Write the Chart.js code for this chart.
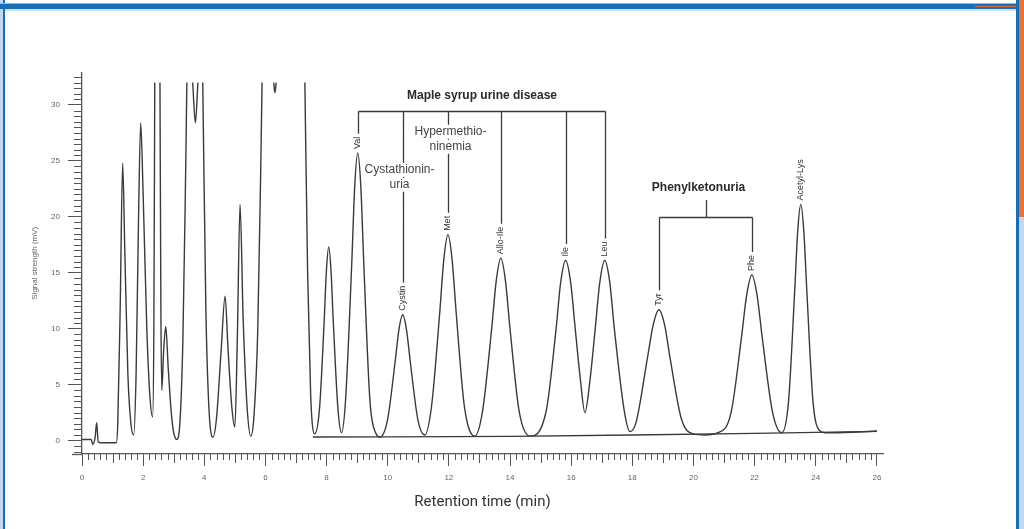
<!DOCTYPE html>
<html>
<head>
<meta charset="utf-8">
<script src="https://cdn.jsdelivr.net/npm/chart.js@4.4.1/dist/chart.umd.min.js"></script>
<style>
  body { margin: 0; background: #fff; width: 1024px; height: 529px; position: relative; overflow: hidden; }
  #chart { position: absolute; left: 0; top: 0; }
  .bar { position: absolute; z-index: 2; }
</style>
</head>
<body>
<canvas id="chart" width="1024" height="529"></canvas>
<!-- moldura azul / laranja -->
<div class="bar" style="left:0;top:0;width:3px;height:529px;background:#c6d6ec"></div>
<div class="bar" style="left:3px;top:0;width:2px;height:529px;background:#1670b9"></div>
<div class="bar" style="left:0;top:3px;width:1019px;height:1px;background:#8fb8e0"></div>
<div class="bar" style="left:0;top:4px;width:1019px;height:5px;background:#1670b9"></div>
<div class="bar" style="left:5px;top:9px;width:1011px;height:2px;background:#cfe0f2"></div>
<div class="bar" style="left:975px;top:6px;width:42px;height:1px;background:#e0703c"></div>
<div class="bar" style="left:1016px;top:0;width:3px;height:529px;background:#1670b9"></div>
<div class="bar" style="left:1019px;top:0;width:5px;height:217px;background:#f07030"></div>
<div class="bar" style="left:1019px;top:217px;width:5px;height:312px;background:#c6d6ec"></div>
<script>
// ==================== DADOS ====================
// Tempo de retenção (min) e sinal (mV); null = fora de escala
const traceTime = [
  0.00, 0.30, 0.35, 0.43, 0.48, 0.53, 0.62, 1.12, 1.17, 1.25, 1.33, 1.40, 1.50, 1.60, 1.69,
  1.77, 1.85, 1.92, 2.00, 2.12, 2.22, 2.31, 2.35, 2.38, 2.46, 2.55, 2.58, 2.61, 2.67, 2.74,
  2.82, 2.92, 3.00, 3.10, 3.20, 3.30, 3.38, 3.43, 3.52, 3.62, 3.71, 3.79, 3.87, 3.95, 4.05,
  4.15, 4.28, 4.40, 4.55, 4.68, 4.78, 4.90, 5.00, 5.08, 5.17, 5.27, 5.40, 5.52, 5.62, 5.75,
  5.85, 5.89, 6.08, 6.27, 6.31, 6.35, 6.80, 7.29, 7.38, 7.48, 7.61, 7.77, 7.92, 7.995, 8.07,
  8.145, 8.22, 8.37, 8.49, 8.62, 8.82, 8.92, 9.02, 9.12, 9.22, 9.42, 9.62, 9.74, 9.99, 10.24,
  10.365, 10.49, 10.615, 10.74, 10.99, 11.21, 11.43, 11.70, 11.835, 11.97, 12.105, 12.24, 12.51, 12.85, 13.10,
  13.40, 13.55, 13.70, 13.85, 14.00, 14.30, 14.65, 15.18, 15.50, 15.66, 15.82, 15.98, 16.14, 16.30, 16.45,
  16.62, 16.78, 16.94, 17.10, 17.26, 17.42, 17.74, 17.92, 18.12, 18.49, 18.68, 18.87, 19.06, 19.24, 19.61,
  20.00, 20.37, 20.80, 21.23, 21.57, 21.74, 21.91, 22.08, 22.25, 22.59, 22.89, 23.11, 23.31, 23.41, 23.51,
  23.61, 23.71, 23.91, 24.12, 24.30, 25.20, 26.00
];
const traceSignal = [
  0.1, 0.1, -0.35, 0.3, 1.6, -0.1, -0.2, -0.2, 1.5, 12, 24.8, 17, 6, 1.5, 0.5,
  6, 20, 28.4, 22, 10, 4, 2.1, 10, 32, null, 32, 12, 4.5, 8, 10.2,
  6.5, 2.5, 0.7, 0.1, 1.5, 9, 22, 32, null, 32, 28.4, 32, null, 32, 12,
  3, 0.3, 2, 8, 12.9, 8, 3, 1.2, 9, 21.1, 11, 3, 0.4, 2, 10,
  25, 32, null, 32, 31.1, 32, null, 32, 15, 4, 0.6, 2.9, 10.6, 15.2, 17.3,
  15.2, 10.6, 2.9, 0.7, 3.6, 15.6, 22.7, 25.7, 22.7, 15.6, 3.5, 0.6, 0.3, 1.8, 7.0,
  9.9, 11.25, 9.9, 7.0, 1.8, 0.5, 3.0, 11.4, 16.2, 18.4, 16.2, 11.4, 3.0, 0.4, 2.6,
  10.0, 14.3, 16.3, 14.3, 10.0, 2.6, 0.4, 2.6, 9.8, 14.2, 16.1, 14.2, 9.8, 5.5, 2.5,
  5.5, 9.8, 14.2, 16.1, 14.2, 9.8, 2.6, 0.8, 1.6, 7.3, 10.3, 11.7, 10.3, 7.3, 1.9,
  0.6, 0.5, 0.7, 2.5, 9.2, 13.0, 14.8, 13.0, 9.2, 2.5, 0.7, 3.5, 13.3, 18.7, 21.1,
  18.7, 13.3, 3.5, 0.9, 0.7, 0.75, 0.85
];

// Linha de base (branco)
const baseTime = [7.55, 10, 14, 18, 22, 26];
const baseSignal = [0.32, 0.33, 0.38, 0.5, 0.65, 0.82];

// Picos identificados
const peakNames = ['Val', 'Cystin', 'Met', 'Allo-Ile', 'Ile', 'Leu', 'Tyr', 'Phe', 'Acetyl-Lys'];
const peakTimes = [9.02, 10.49, 11.97, 13.70, 15.82, 17.10, 18.87, 21.91, 23.51];

// Doenças
const msudTitle = 'Maple syrup urine disease';
const msudPeaks = ['Val', 'Cystin', 'Met', 'Allo-Ile', 'Ile', 'Leu'];
const pkuTitle = 'Phenylketonuria';
const pkuPeaks = ['Tyr', 'Phe'];
const subNotes = [
  { lines: ['Cystathionin-', 'uria'], peak: 'Cystin', y: 24.2, dx: -4 },
  { lines: ['Hypermethio-', 'ninemia'], peak: 'Met', y: 27.6, dx: 2 }
];

// Eixos
const xTickLabels = [0, 2, 4, 6, 8, 10, 12, 14, 16, 18, 20, 22, 24, 26];
const yTickLabels = [0, 5, 10, 15, 20, 25, 30];

const INK = '#3a3a3a';

// ==================== PLUGINS ====================
const minorTicks = {
  id: 'minorTicks',
  afterDraw(chart) {
    const { ctx, scales: { x, y } } = chart;
    ctx.save();
    ctx.strokeStyle = '#555';
    ctx.lineWidth = 1;
    ctx.beginPath();
    for (let k = 0; k <= 130; k++) {
      if (k % 10 === 0) continue;
      const px = Math.round(x.getPixelForValue(k / 5)) + 0.5;
      const len = k % 5 === 0 ? 9 : 6;
      ctx.moveTo(px, y.bottom);
      ctx.lineTo(px, y.bottom + len);
    }
    for (let k = -2; k <= 65; k++) {
      if (k % 10 === 0) continue;
      const py = Math.round(y.getPixelForValue(k / 2)) + 0.5;
      ctx.moveTo(x.left - 8, py);
      ctx.lineTo(x.left, py);
    }
    ctx.stroke();
    // eixo x prolongado à esquerda
    ctx.lineWidth = 1.3;
    ctx.beginPath();
    ctx.moveTo(x.left - 10, y.bottom + 0.5);
    ctx.lineTo(x.left, y.bottom + 0.5);
    ctx.stroke();
    ctx.restore();
  }
};

function peakHeight(t) {
  let best = 0, dist = Infinity;
  traceTime.forEach((v, i) => {
    if (traceSignal[i] !== null && Math.abs(v - t) < dist) { dist = Math.abs(v - t); best = traceSignal[i]; }
  });
  return best;
}

const peakLabels = {
  id: 'peakLabels',
  afterDatasetsDraw(chart) {
    const { ctx, scales: { x, y } } = chart;
    ctx.save();
    ctx.fillStyle = '#333';
    ctx.strokeStyle = INK;
    ctx.lineWidth = 1.3;

    // nomes rotacionados
    const tops = {};
    const xs = {};
    ctx.font = '9px "Liberation Sans", Arial, sans-serif';
    peakNames.forEach((name, i) => {
      const px = x.getPixelForValue(peakTimes[i]);
      const base = y.getPixelForValue(peakHeight(peakTimes[i])) - 4;
      ctx.save();
      ctx.translate(px, base);
      ctx.rotate(-Math.PI / 2);
      ctx.textAlign = 'left';
      ctx.textBaseline = 'middle';
      ctx.fillText(name, 0, 0);
      ctx.restore();
      xs[name] = Math.round(px) + 0.5;
      tops[name] = base - ctx.measureText(name).width - 3;
    });

    // colchete MSUD
    const by = Math.round(y.getPixelForValue(29.45)) + 0.5;
    ctx.beginPath();
    ctx.moveTo(xs[msudPeaks[0]], by);
    ctx.lineTo(xs[msudPeaks[msudPeaks.length - 1]], by);
    msudPeaks.forEach(n => {
      ctx.moveTo(xs[n], by);
      ctx.lineTo(xs[n], tops[n]);
    });
    ctx.stroke();

    // colchete PKU
    const py2 = Math.round(y.getPixelForValue(20.0)) + 0.5;
    const mid = Math.round((xs[pkuPeaks[0]] + xs[pkuPeaks[1]]) / 2) + 0.5;
    ctx.beginPath();
    ctx.moveTo(xs[pkuPeaks[0]], py2);
    ctx.lineTo(xs[pkuPeaks[1]], py2);
    pkuPeaks.forEach(n => {
      ctx.moveTo(xs[n], py2);
      ctx.lineTo(xs[n], tops[n]);
    });
    ctx.moveTo(mid, py2);
    ctx.lineTo(mid, y.getPixelForValue(21.5));
    ctx.stroke();

    // títulos
    ctx.textAlign = 'center';
    ctx.textBaseline = 'middle';
    ctx.font = 'bold 12px "Liberation Sans", Arial, sans-serif';
    ctx.fillStyle = '#2a2a2a';
    ctx.fillText(msudTitle, (xs[msudPeaks[0]] + xs[msudPeaks[msudPeaks.length - 1]]) / 2, y.getPixelForValue(30.8));
    ctx.fillText(pkuTitle, mid - 8, y.getPixelForValue(22.6));

    // notas com fundo branco
    ctx.font = '12px "Liberation Sans", Arial, sans-serif';
    subNotes.forEach(note => {
      const cx = xs[note.peak] + note.dx;
      note.lines.forEach((line, j) => {
        const cy = y.getPixelForValue(note.y) + j * 15;
        const w = ctx.measureText(line).width;
        ctx.fillStyle = '#fff';
        ctx.fillRect(cx - w / 2 - 1, cy - 7, w + 2, 14);
        ctx.fillStyle = '#444';
        ctx.fillText(line, cx, cy);
      });
    });
    ctx.restore();
  }
};

// ==================== GRÁFICO ====================
const ctx = document.getElementById('chart');
new Chart(ctx, {
  type: 'line',
  data: {
    datasets: [
      {
        data: traceTime.map((t, i) => ({ x: t, y: traceSignal[i] })),
        borderColor: INK,
        borderWidth: 1.4,
        pointRadius: 0,
        cubicInterpolationMode: 'monotone',
        spanGaps: false
      },
      {
        data: baseTime.map((t, i) => ({ x: t, y: baseSignal[i] })),
        borderColor: INK,
        borderWidth: 1.3,
        pointRadius: 0,
        tension: 0
      }
    ]
  },
  options: {
    responsive: false,
    animation: false,
    events: [],
    layout: { padding: { left: 20, top: 72.5, right: 141, bottom: 15 } },
    plugins: { legend: { display: false }, tooltip: { enabled: false } },
    scales: {
      x: {
        type: 'linear',
        min: 0,
        max: 26.2,
        afterBuildTicks: s => { s.ticks = xTickLabels.map(v => ({ value: v })); },
        afterFit: s => { s.height = 60; },
        ticks: { autoSkip: false, maxRotation: 0, padding: 7, color: '#666', font: { size: 8, family: '"Liberation Sans", Arial, sans-serif' } },
        grid: { display: true, drawOnChartArea: false, drawTicks: true, tickLength: 12, tickColor: '#555' },
        border: { display: true, color: '#555', width: 1.3 },
        title: { display: true, text: 'Retention time (min)', color: '#333', padding: { top: 0, bottom: 3 }, font: { size: 15, family: 'Roboto, sans-serif' } }
      },
      y: {
        type: 'linear',
        min: -1.2,
        max: 32.9,
        afterBuildTicks: s => { s.ticks = yTickLabels.map(v => ({ value: v })); },
        afterFit: s => { s.width = 62; },
        ticks: { autoSkip: false, padding: 8, color: '#666', font: { size: 8, family: '"Liberation Sans", Arial, sans-serif' } },
        grid: { display: true, drawOnChartArea: false, drawTicks: true, tickLength: 14, tickColor: '#555' },
        border: { display: true, color: '#555', width: 1.3 },
        title: { display: true, text: 'Signal strength (mV)', color: '#666', padding: { top: 10, bottom: 0 }, font: { size: 8, family: '"Liberation Sans", Arial, sans-serif' } }
      }
    }
  },
  plugins: [minorTicks, peakLabels]
});
</script>
</body>
</html>
